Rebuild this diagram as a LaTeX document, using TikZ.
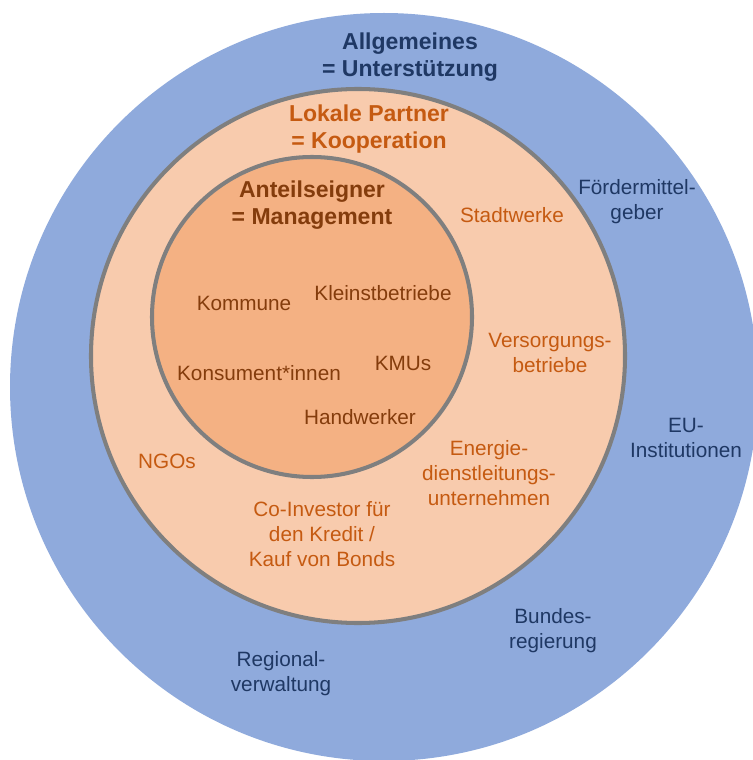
\documentclass[tikz,border=0pt]{standalone}
\usepackage{fontspec}
\setmainfont{Liberation Sans}
\usepackage{tikz}

\definecolor{supportblue}{HTML}{8FAADC}
\definecolor{partnerpeach}{HTML}{F8CBAD}
\definecolor{ownerorange}{HTML}{F4B183}
\definecolor{ringgray}{HTML}{7F7F7F}
\definecolor{navytext}{HTML}{1F3864}
\definecolor{orangetext}{HTML}{C55A11}
\definecolor{browntext}{HTML}{843C0C}

\begin{document}
\begin{tikzpicture}[x=0.02cm,y=-0.02cm,
  ring/.style={draw=ringgray,line width=2.3pt},
  body/.style={align=center,font=\fontsize{11.8}{14.2}\selectfont},
  head/.style={align=center,font=\fontsize{13.1}{15.3}\selectfont\bfseries}]
  \useasboundingbox (0,0) rectangle (753,760);

  % Circle centres
  \coordinate (Oout) at (384,387);
  \coordinate (Omid) at (358,356);
  \coordinate (Oin)  at (312,317);

  % Three rings
  \fill[supportblue] (Oout) circle[radius=374];
  \draw[ring,fill=partnerpeach] (Omid) circle[radius=267];
  \draw[ring,fill=ownerorange] (Oin) circle[radius=160];

  % Headings
  \node[head,text=navytext] (support) at (410,57) {Allgemeines\\= Unterstützung};
  \node[head,text=orangetext] (partner) at (369,129) {Lokale Partner\\= Kooperation};
  \node[head,text=browntext] (owner) at (312,205) {Anteilseigner\\= Management};

  % Inner ring
  \node[body,text=browntext] (kommune) at (244,303) {Kommune};
  \node[body,text=browntext] (kleinst) at (383,293) {Kleinstbetriebe};
  \node[body,text=browntext] (konsument) at (259,373) {Konsument*innen};
  \node[body,text=browntext] (kmu) at (403,363) {KMUs};
  \node[body,text=browntext] (handwerk) at (360,417) {Handwerker};

  % Middle ring
  \node[body,text=orangetext] (stadtwerke) at (512,215) {Stadtwerke};
  \node[body,text=orangetext] (versorgung) at (550,353) {Versorgungs-\\betriebe};
  \node[body,text=orangetext] (energie) at (489,473) {Energie-\\dienstleitungs-\\unternehmen};
  \node[body,text=orangetext] (ngo) at (167,461) {NGOs};
  \node[body,text=orangetext] (coinvest) at (322,534) {Co-Investor für\\den Kredit /\\Kauf von Bonds};

  % Outer ring
  \node[body,text=navytext] (foerder) at (637,202) {Fördermittel-\\geber};
  \node[body,text=navytext] (eu) at (686,438) {EU-\\Institutionen};
  \node[body,text=navytext] (bund) at (553,631) {Bundes-\\regierung};
  \node[body,text=navytext] (region) at (281,674) {Regional-\\verwaltung};
\end{tikzpicture}
\end{document}
